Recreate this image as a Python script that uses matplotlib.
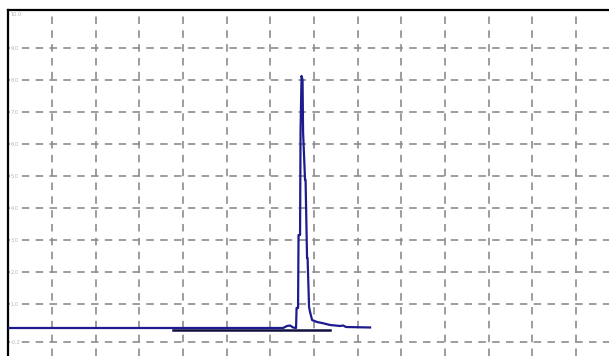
import matplotlib
matplotlib.use("Agg")
import matplotlib.pyplot as plt

# Signal trace (blue) in grid units
trace_x = [-1.008, 5.290, 5.381, 5.450, 5.519, 5.587, 5.599, 5.633, 5.644, 5.679,
           5.690, 5.713, 5.736, 5.748, 5.793, 5.805, 5.839, 5.851, 5.885, 5.908,
           5.954, 6.068, 6.183, 6.366, 6.595, 6.664, 6.732, 7.282]
trace_y = [0.25, 0.25, 0.3125, 0.328, 0.266, 0.25, 0.875, 0.875, 3.156, 3.156,
           6.375, 8.125, 8.0, 6.375, 4.875, 4.875, 2.4375, 2.4375, 0.906, 0.75,
           0.5, 0.4375, 0.406, 0.344, 0.3125, 0.328, 0.281, 0.266]

# Reference baseline (black)
base_x = [2.771, 6.366]
base_y = [0.2, 0.2]

# Grid positions / tick labels
x_ticks = list(range(0, 13))
y_ticks = [9, 8, 7, 6, 5, 4, 3, 2, 1, -0.19]
y_labels = ["9.0", "8.0", "7.0", "6.0", "5.0", "4.0", "3.0", "2.0", "1.0", "-0.2"]

W, H = 609, 356
fig = plt.figure(figsize=(W / 100, H / 100), dpi=100)
ax = fig.add_axes([8 / W, 0, 1 - 8 / W + 0.01, (H - 10) / H])

x_left = -1.008
x_right = x_left + (W + 6 - 8) / 43.67
ax.set_xlim(x_left, x_right)
ax.set_ylim((336 - 356) / 32, (336 - 10) / 32)

grid_kw = dict(color="#8c8c8c", lw=1.2, ls=(0, (4.5, 3.8)), zorder=1)
for xv in x_ticks:
    ax.axvline(xv, **grid_kw)
for yv in y_ticks:
    ax.axhline(yv, **grid_kw)

ax.plot(base_x, base_y, color="#101040", lw=1.8, zorder=2)
ax.plot(trace_x, trace_y, color="#1c1c8e", lw=1.6, zorder=3)

for yv, lab in zip(y_ticks, y_labels):
    ax.text(x_left + 0.06, yv, lab, fontsize=3.6, color="#b4b4b4",
            va="center", ha="left", zorder=4,
            bbox=dict(facecolor="white", edgecolor="none", pad=0.3))
ax.text(x_left + 0.06, (336 - 15) / 32, "10.0", fontsize=3.6, color="#b4b4b4",
        va="center", ha="left", zorder=4)

ax.set_xticks([])
ax.set_yticks([])
for s in ["right", "bottom"]:
    ax.spines[s].set_visible(False)
for s in ["left", "top"]:
    ax.spines[s].set_linewidth(1.6)
    ax.spines[s].set_color("black")

fig.savefig("out.png", dpi=100)
